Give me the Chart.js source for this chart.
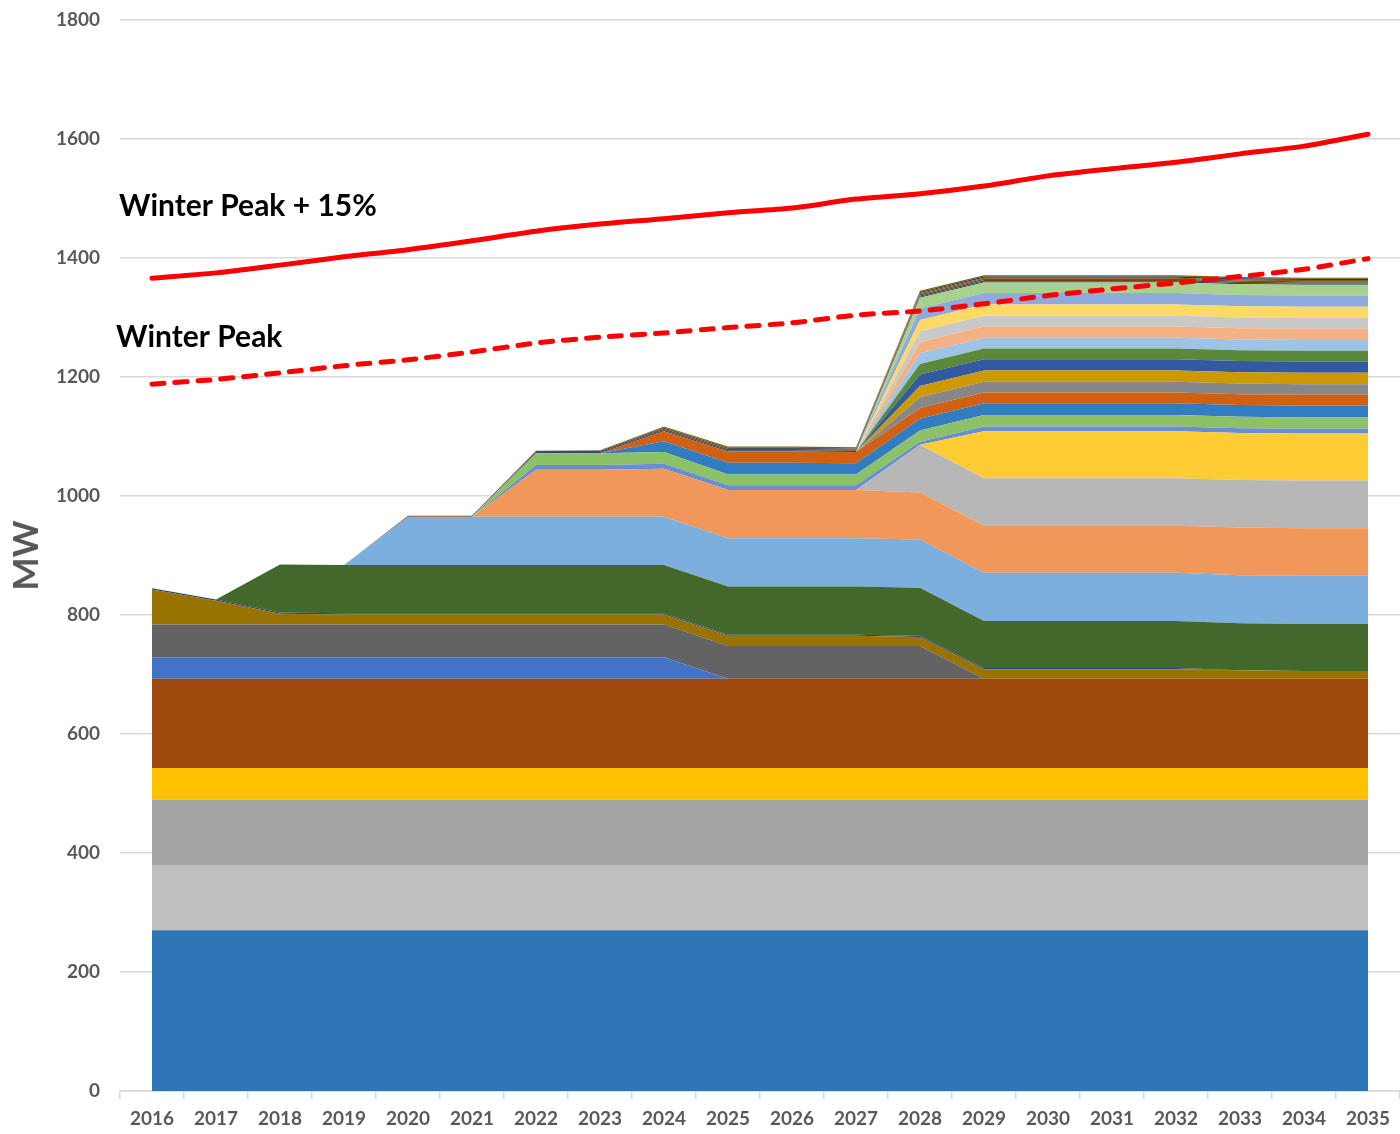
<!DOCTYPE html>
<html>
<head>
<meta charset="utf-8">
<title>Capacity vs Winter Peak</title>
<script src="https://cdn.jsdelivr.net/npm/chart.js@4.4.0/dist/chart.umd.min.js"></script>
<style>
  body { margin: 0; background: #ffffff; }
  #wrap { width: 1400px; height: 1134px; }
</style>
</head>
<body>
<div id="wrap"><canvas id="capacityChart" width="1400" height="1134"></canvas></div>
<script>
// Years on the x axis
const years = ['2016', '2017', '2018', '2019', '2020', '2021', '2022', '2023', '2024', '2025',
               '2026', '2027', '2028', '2029', '2030', '2031', '2032', '2033', '2034', '2035'];

// Stacked resources, bottom to top (MW)
const res01 = [270, 270, 270, 270, 270, 270, 270, 270, 270, 270, 270, 270, 270, 270, 270, 270, 270, 270, 270, 270];
const res02 = [110, 110, 110, 110, 110, 110, 110, 110, 110, 110, 110, 110, 110, 110, 110, 110, 110, 110, 110, 110];
const res03 = [110, 110, 110, 110, 110, 110, 110, 110, 110, 110, 110, 110, 110, 110, 110, 110, 110, 110, 110, 110];
const res04 = [53, 53, 53, 53, 53, 53, 53, 53, 53, 53, 53, 53, 53, 53, 53, 53, 53, 53, 53, 53];
const res05 = [150, 150, 150, 150, 150, 150, 150, 150, 150, 150, 150, 150, 150, 150, 150, 150, 150, 150, 150, 150];
const res06 = [36, 36, 36, 36, 36, 36, 36, 36, 36, 0, 0, 0, 0, 0, 0, 0, 0, 0, 0, 0];
const res07 = [55, 55, 55, 55, 55, 55, 55, 55, 55, 55, 55, 55, 55, 0, 0, 0, 0, 0, 0, 0];
const res08 = [59, 40, 18, 17, 17, 17, 17, 17, 17, 17, 17, 17, 15, 16, 16, 16, 16, 14, 13, 13];
const res09 = [2, 2, 2, 2, 2, 2, 2, 2, 2, 2, 2, 2, 2, 2, 2, 2, 2, 0, 0, 0];
const res10 = [0, 0, 81, 81, 81, 81, 81, 81, 81, 81, 81, 81, 81, 79, 79, 79, 79, 79, 79, 79];
const res11 = [0, 0, 0, 0, 81, 81, 81, 81, 81, 81, 81, 81, 81, 81, 81, 81, 81, 81, 81, 81];
const res12 = [0, 0, 0, 0, 0, 0, 79, 79, 81, 81, 81, 81, 79, 79, 79, 79, 79, 80, 80, 80];
const res13 = [0, 0, 0, 0, 0, 0, 0, 0, 0, 0, 0, 0, 80, 80, 80, 80, 80, 80, 80, 80];
const res14 = [0, 0, 0, 0, 0, 0, 0, 0, 0, 0, 0, 0, 0, 79, 79, 79, 79, 79, 79, 79];
const res15 = [0, 0, 0, 0, 0, 0, 8, 8, 8, 8, 8, 8, 5, 8, 8, 8, 8, 8, 8, 8];
const res16 = [0, 0, 0, 0, 0, 0, 20, 20, 20, 18, 18, 18, 19, 19, 19, 19, 19, 19, 19, 19];
const res17 = [0, 0, 0, 0, 0, 0, 0, 0, 18, 20, 20, 19, 20, 20, 20, 20, 20, 20, 20, 20];
const res18 = [0, 0, 0, 0, 0, 0, 0, 0, 17, 19, 19, 19, 18, 18, 18, 18, 18, 18, 18, 18];
const res19 = [0, 0, 0, 0, 0, 0, 0, 0, 0, 0, 0, 0, 18, 18, 18, 18, 18, 18, 18, 18];
const res20 = [0, 0, 0, 0, 0, 0, 0, 0, 0, 0, 0, 0, 19, 19, 19, 19, 19, 19, 19, 19];
const res21 = [0, 0, 0, 0, 0, 0, 0, 0, 0, 0, 0, 0, 19, 19, 19, 19, 19, 19, 19, 19];
const res22 = [0, 0, 0, 0, 0, 0, 0, 0, 0, 0, 0, 0, 18, 18, 18, 18, 18, 18, 18, 18];
const res23 = [0, 0, 0, 0, 0, 0, 0, 0, 0, 0, 0, 0, 18, 18, 18, 18, 18, 18, 18, 18];
const res24 = [0, 0, 0, 0, 0, 0, 0, 0, 0, 0, 0, 0, 19, 19, 19, 19, 19, 19, 19, 19];
const res25 = [0, 0, 0, 0, 0, 0, 0, 0, 0, 0, 0, 0, 18, 18, 18, 18, 18, 18, 18, 18];
const res26 = [0, 0, 0, 0, 0, 0, 0, 0, 0, 0, 0, 0, 19, 19, 19, 19, 19, 19, 19, 19];
const res27 = [0, 0, 0, 0, 0, 0, 0, 0, 0, 0, 0, 0, 19, 19, 19, 19, 19, 19, 19, 19];
const res28 = [0, 0, 0, 0, 0, 0, 0, 0, 0, 0, 0, 0, 18, 18, 18, 18, 18, 18, 18, 18];
const res29 = [0, 0, 0, 0, 0, 0, 2, 2, 2, 2, 2, 2, 2, 2, 2, 2, 2, 2, 2, 2];
const res30 = [0, 0, 0, 0, 2, 2, 2, 2, 2, 2, 2, 2, 2, 2, 2, 2, 2, 2, 2, 2];
const res31 = [0, 0, 0, 0, 0, 0, 0, 1, 2, 2, 2, 2, 2, 2, 2, 2, 2, 2, 2, 2];
const res32 = [0, 0, 0, 0, 0, 0, 0, 0, 2, 2, 2, 2, 2, 2, 2, 2, 2, 2, 2, 2];
const res33 = [0, 0, 0, 0, 0, 0, 0, 0, 0, 0, 0, 0, 2, 2, 2, 2, 2, 2, 2, 2];
const res34 = [0, 0, 0, 0, 0, 0, 0, 0, 0, 0, 0, 0, 2, 2, 2, 2, 2, 2, 2, 2];

// Load lines (MW)
const winterPeak = [1188, 1196, 1207, 1219, 1229, 1242, 1257, 1267, 1274, 1283,
                    1291, 1304, 1311, 1323, 1337, 1348, 1358, 1369, 1381, 1399];
const winterPeak15 = [1366, 1375, 1388, 1402, 1414, 1429, 1445, 1457, 1466, 1476,
                      1484, 1499, 1508, 1521, 1538, 1550, 1561, 1575, 1588, 1608];

// y axis ticks
const yTicks = [0, 200, 400, 600, 800, 1000, 1200, 1400, 1600, 1800];

const layers = [res01, res02, res03, res04, res05, res06, res07, res08, res09, res10,
                res11, res12, res13, res14, res15, res16, res17, res18, res19, res20,
                res21, res22, res23, res24, res25, res26, res27, res28, res29, res30,
                res31, res32, res33, res34];

const layerColors = [
    '#2E75B6', '#BFBFBF', '#A5A5A5', '#FFC000', '#9E480E', '#4472C4', '#636363', '#997300',
    '#264478', '#43682B', '#7CAFDD', '#F1975A', '#B7B7B7', '#FFCD33', '#698ED0', '#8CC168',
    '#327DC2', '#D26012', '#878787', '#CC9900', '#335AA1', '#5A8A39', '#9DC3E6', '#F4B183',
    '#C9C9C9', '#FFD966', '#8FAADC', '#A9D18E', '#1F4E79', '#843C0C', '#525252', '#7F6000',
    '#203864', '#7F6000'
];

const tickColor = '#595959';
const gridColor = '#D9D9D9';

const areaSets = layers.map((vals, i) => ({
    label: 'Resource ' + (i + 1),
    data: vals,
    backgroundColor: layerColors[i],
    borderColor: layerColors[i],
    borderWidth: 0,
    pointRadius: 0,
    tension: 0,
    fill: i === 0 ? 'origin' : '-1',
    yAxisID: 'y'
}));

const lineSets = [
    {
        label: 'Winter Peak + 15%',
        data: winterPeak15,
        borderColor: '#FF0000',
        borderWidth: 5,
        borderCapStyle: 'round',
        pointRadius: 0,
        tension: 0.25,
        fill: false,
        yAxisID: 'y2',
        order: -1
    },
    {
        label: 'Winter Peak',
        data: winterPeak,
        borderColor: '#FF0000',
        borderWidth: 5,
        borderDash: [12, 11],
        borderCapStyle: 'round',
        pointRadius: 0,
        tension: 0.25,
        fill: false,
        yAxisID: 'y2',
        order: -1
    }
];

// Text labels beside the load lines
const lineLabels = {
    id: 'lineLabels',
    afterDatasetsDraw(chart) {
        const ctx = chart.ctx;
        const y = chart.scales.y;
        const left = chart.chartArea.left;
        ctx.save();
        ctx.fillStyle = '#000000';
        ctx.font = 'bold 30px Lato';
        ctx.textBaseline = 'alphabetic';
        ctx.textAlign = 'left';
        ctx.fillText('Winter Peak + 15%', left - 1, y.getPixelForValue(1470));
        ctx.fillText('Winter Peak', left - 4, y.getPixelForValue(1250));
        ctx.restore();
    }
};

const ctx = document.getElementById('capacityChart').getContext('2d');
new Chart(ctx, {
    type: 'line',
    data: {
        labels: years,
        datasets: areaSets.concat(lineSets)
    },
    options: {
        responsive: false,
        animation: false,
        events: [],
        layout: { padding: { top: 20, right: 0, bottom: 0, left: 0 } },
        plugins: {
            legend: { display: false },
            tooltip: { enabled: false }
        },
        scales: {
            x: {
                type: 'category',
                offset: true,
                grid: {
                    offset: true,
                    drawOnChartArea: false,
                    drawTicks: true,
                    tickLength: 8,
                    color: gridColor,
                    lineWidth: 1.5
                },
                border: { display: true, color: gridColor, width: 1.5 },
                ticks: {
                    color: tickColor,
                    font: { family: 'Lato', weight: 'bold', size: 19 },
                    padding: 8,
                    maxRotation: 0,
                    autoSkip: false
                },
                afterFit(scale) { scale.height = 43; }
            },
            y: {
                stacked: true,
                min: 0,
                max: 1800,
                afterBuildTicks(scale) { scale.ticks = yTicks.map(v => ({ value: v })); },
                grid: { color: gridColor, lineWidth: 1.5, drawTicks: false },
                border: { display: false },
                ticks: {
                    color: tickColor,
                    font: { family: 'Lato', weight: 'bold', size: 19 },
                    padding: 20,
                    callback: (v) => String(v)
                },
                title: {
                    display: true,
                    text: 'MW',
                    color: tickColor,
                    font: { family: 'Lato', weight: 'bold', size: 35 },
                    padding: { top: 6, bottom: 0 }
                },
                afterFit(scale) {
                    scale.width = 120;
                    scale.paddingTop = 0;
                    scale.paddingBottom = 0;
                }
            },
            y2: {
                display: false,
                stacked: false,
                min: 0,
                max: 1800
            }
        }
    },
    plugins: [lineLabels]
});
</script>
</body>
</html>
